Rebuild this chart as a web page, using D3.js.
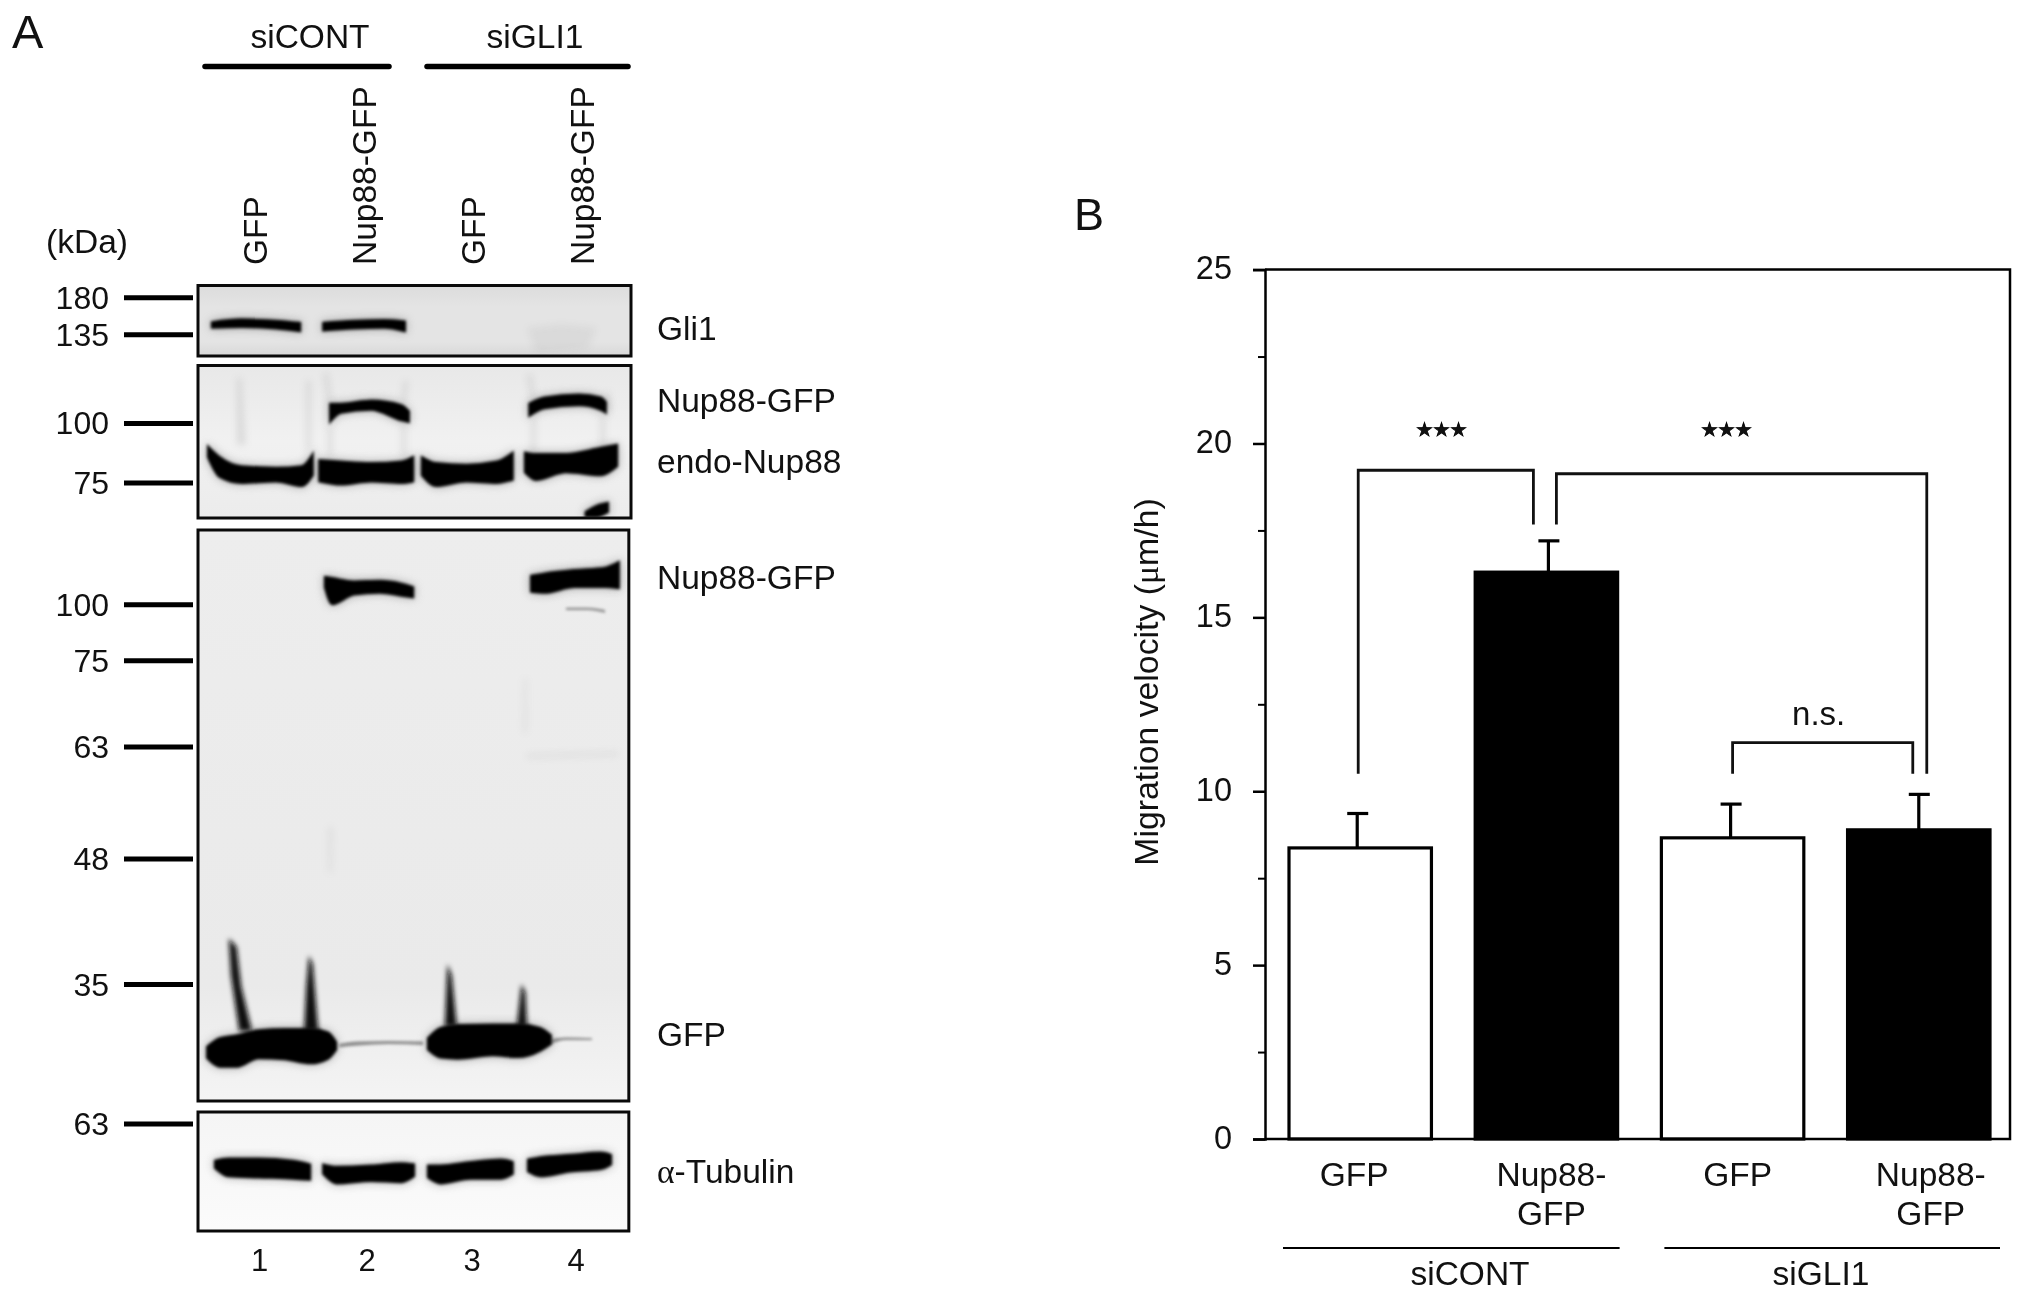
<!DOCTYPE html>
<html><head><meta charset="utf-8">
<script src="https://cdnjs.cloudflare.com/ajax/libs/d3/7.8.5/d3.min.js"></script>
<style>
html,body{margin:0;padding:0;background:#fff}
svg{display:block;filter:blur(0.55px)}
text{font-family:"Liberation Sans",Arial,sans-serif;fill:#111}
</style></head><body>
<script>
// ---------- Panel B data ----------
const barCategories = ["GFP","Nup88-GFP (siCONT)","GFP (siGLI1)","Nup88-GFP (siGLI1)"];
const barValues = [8.37,16.3,8.66,8.89];
const barErrors = [9.36,17.2,9.63,9.91];
const barFills = ["#fff","#000","#fff","#000"];
const barLabelsLine1 = ["GFP","Nup88-","GFP","Nup88-"];
const barLabelsLine2 = ["","GFP","","GFP"];
const majorTicks = [0,5,10,15,20,25];
const minorTicks = [2.5,7.5,12.5,17.5,22.5];
const groupNames = ["siCONT","siGLI1"];
// brackets: from bar, to bar, level, value at left foot, value at right foot
const brackets = [
  {a:0,b:1,level:19.23,footA:10.5,footB:17.67,da:-2,db:-13,label:"★★★"},
  {a:1,b:3,level:19.13,footA:17.67,footB:10.5,da:10,db:8,label:"★★★"},
  {a:2,b:3,level:11.4,footA:10.5,footB:10.5,da:0,db:-6,label:"n.s."}
];
// ---------- Panel A data ----------
const laneNames = ["GFP","Nup88-GFP","GFP","Nup88-GFP"];
const laneNumbers = ["1","2","3","4"];
// ladders: kDa and relative migration (% of blot height)
const ladderGli = {kda:["180","135"],mig:[17.2,69.8]};
const ladderNup = {kda:["100","75"],mig:[38,77]};
const ladderBig = {kda:["100","75","63","48","35"],mig:[13.1,22.9,38,57.6,79.6]};
const ladderTub = {kda:["63"],mig:[10]};
// bands: [% of blot width, top %, bottom % of blot height]
const bandsGli = [
 [[3.2,52,60],[10,48,59],[18,50,61],[23.6,53,65]],
 [[28.9,53,64],[36,50,61],[43,49,60],[47.8,51,65]]
];
const bandsNup = [
 [[30.5,25,37],[33,25,31],[40,23,29],[47,26,36],[48.7,30,37]],
 [[76.5,25,33],[80,21,28],[88,19,26],[93,21,29],[94.2,24,31]],
 [[2.3,53,60],[5,60,73],[10,66,77],[18,67,76],[24,66,79],[26.5,58,72]],
 [[28,62,76],[33,63,78],[40,64,76],[47,63,77],[49.7,60,76]],
 [[51.7,60,72],[55,64,79],[62,65,76],[69,63,77],[72.7,57,75]],
 [[75.5,57,70],[78,58,75],[85,58,70],[93,54,72],[96.8,52,66]],
 [[89.5,96,99],[92,92,99],[94.7,90,96]]
];
const bandsBig = [
 [[29.3,8.2,10],[31,8.4,13],[36,9,11.3],[42,8.9,11],[47,9.4,11.5],[49.7,10,11.8]],
 [[76.9,8,10.8],[80,7.6,11],[87,7,10],[94,6.6,10],[97.2,5.6,10.2]],
 [[2.1,90.5,92.5],[5,89,94],[9,88.5,94],[14,87.6,92.5],[20,87.4,92.7],[26,87.4,93.4],[30,88,92.6],[31.9,89.7,91]],
 [[53.1,89,91],[56,87.2,92.4],[60,86.7,92.6],[68,86.6,92],[74,86.6,92.3],[79,87.2,91.2],[81.5,88.5,90]]
];
const faintBig = [
 [[32.6,90,90.6],[37,89.6,90.3],[44,89.5,90],[52,89.6,90.2]],
 [[81.5,89.2,90],[85,88.9,89.3],[91,89,89.3]],
 [[85,13.6,14],[90,13.6,14],[94,14,14.5]]
];
const streaksBig = [
 [[7.1,71.5],[8.9,73],[10,80],[12.5,87.8],[9.5,87.8],[7.6,78]],
 [[25.6,74.5],[26.5,76],[27.8,87.8],[24.5,87.8],[25,80]],
 [[57.6,76],[58.6,78],[59.8,87],[57,87]],
 [[74.7,79.5],[75.6,81],[76,87],[73.6,87]]
];
const smudgesBig = [
 [[75.2,26],[76,26],[76,35.5],[75,35.5]],
 [[76,39.2],[97,38.8],[97,39.6],[76,40]],
 [[30,52],[31.2,52],[31,60],[30,60]]
];
const smudgesNup = [
 [[9,8],[10,8],[11,52],[9,52]],
 [[29,5],[30,5],[31,26],[30,26]],
 [[47.5,10],[48.5,10],[48,24],[47,24]],
 [[76,6],[77,6],[78,24],[77,24]],
 [[95,15],[94,22],[94,30],[95,30]],
 [[30,40],[31,40],[31,60],[30,60]],
 [[47,38],[48,38],[48,60],[47,60]],
 [[77,35],[78,35],[78,60],[77,60]],
 [[93,33],[94,33],[94,56],[93,56]],
 [[25,10],[26,10],[26,55],[25,55]]
];
const smudgesGli = [[[76,60],[84,55],[92,60],[90,90],[78,95]]];
const bandsTub = [
 [[3.9,41,47],[7,39,54],[14,39,55],[22,41,56],[25.9,44,57]],
 [[28.9,44,52],[32,46,60],[40,45,58],[47,43,59],[49.9,44,54]],
 [[53.1,45,55],[56,45,60],[63,42,56],[70,40,56],[72.7,42,52]],
 [[76.2,40,50],[79,38,54],[86,36,50],[93,34,48],[95.4,36,44]]
];
const blotLabels = [
 {t:"Gli1",b:"gli",v:78},{t:"Nup88-GFP",b:"nup",v:30.6},{t:"endo-Nup88",b:"nup",v:70.6},
 {t:"Nup88-GFP",b:"big",v:10.4},{t:"GFP",b:"big",v:90.4}
];

// ---------- drawing ----------
const svg = d3.select("body").append("svg").attr("width",2032).attr("height",1299);
const defs = svg.append("defs");
const blur = (id,s)=>defs.append("filter").attr("id",id).attr("filterUnits","userSpaceOnUse")
  .attr("x",0).attr("y",0).attr("width",2032).attr("height",1299)
  .append("feGaussianBlur").attr("stdDeviation",s);
blur("b1",1.8); blur("b2",2.4); blur("b3",3.5); blur("b5",5);
const grad=(id,stops)=>{const g=defs.append("linearGradient").attr("id",id).attr("x1",0).attr("x2",0).attr("y1",0).attr("y2",1);
  stops.forEach(s=>g.append("stop").attr("offset",s[0]).attr("stop-color",s[1]));};
grad("gGli",[[0,"#dcdcdc"],[0.3,"#e4e4e4"],[0.8,"#e4e4e4"],[1,"#d8d8d8"]]);
grad("gNup",[[0,"#e8e8e8"],[0.5,"#f1f1f1"],[1,"#ececec"]]);
grad("gBig",[[0,"#ededed"],[0.8,"#eaeaea"],[1,"#f4f4f4"]]);
grad("gTub",[[0,"#f5f5f5"],[1,"#fbfbfb"]]);

const fs = 33.5;
function text(g,x,y,s,opts={}){
  const t=g.append("text").attr("x",x).attr("y",y).attr("font-size",opts.size||fs).text(s);
  if(opts.anchor)t.attr("text-anchor",opts.anchor);
  return t;
}

// --- panel A
const A = svg.append("g");
text(A,12,48,"A",{size:47});
const blotX = d3.scaleLinear().domain([0,100]).range([198,631]);

const area = (y)=>d3.area().x(d=>blotX(d[0])).y0(d=>y(d[1])).y1(d=>y(d[2])).curve(d3.curveMonotoneX);
const poly = (y)=>d3.line().x(d=>blotX(d[0])).y(d=>y(d[1])).curve(d3.curveLinearClosed);

function blot(top,bottom,rightPct,fill,ladder,bands,ops={}){
  const y=d3.scaleLinear().domain([0,100]).range([top,bottom]);
  const w=blotX(rightPct)-blotX(0);
  const g=A.append("g");
  g.append("rect").attr("x",blotX(0)).attr("y",top).attr("width",w).attr("height",bottom-top).attr("fill",`url(#${fill})`);
  const clipId="c"+Math.round(top);
  defs.append("clipPath").attr("id",clipId).append("rect").attr("x",blotX(0)).attr("y",top).attr("width",w).attr("height",bottom-top);
  const inner=g.append("g").attr("clip-path",`url(#${clipId})`);
  (ops.smudges||[]).forEach(s=>inner.append("path").attr("d",poly(y)(s)).attr("fill","#888").attr("opacity",ops.smudgeOp||0.3).attr("filter","url(#b3)"));
  (ops.faint||[]).forEach(s=>inner.append("path").attr("d",area(y)(s)).attr("fill","#8a8a8a").attr("filter","url(#b1)"));
  // soft halo round each band
  inner.selectAll("path.halo").data(bands).join("path").attr("class","halo").attr("d",d=>area(y)(d)).attr("fill","#777").attr("stroke","#777").attr("stroke-width",3).attr("opacity",.55).attr("filter","url(#b5)");
  (ops.streaks||[]).forEach(s=>inner.append("path").attr("d",poly(y)(s)).attr("fill","#111").attr("filter","url(#b2)"));
  inner.selectAll("path.band").data(bands).join("path").attr("class","band").attr("d",d=>area(y)(d)).attr("fill","#030303").attr("stroke","#030303").attr("stroke-width",2).attr("filter","url(#b1)");
  g.append("rect").attr("x",blotX(0)).attr("y",top).attr("width",w).attr("height",bottom-top).attr("fill","none").attr("stroke","#0a0a0a").attr("stroke-width",3);
  // ladder
  ladder.kda.forEach((k,i)=>{
    const yy=y(ladder.mig[i]);
    A.append("line").attr("x1",124).attr("x2",193).attr("y1",yy).attr("y2",yy).attr("stroke","#000").attr("stroke-width",5);
    text(A,109,yy+11,k,{anchor:"end",size:32});
  });
  return y;
}
const yGli=blot(285.5,356,100,"gGli",ladderGli,bandsGli,{smudges:smudgesGli,smudgeOp:.1});
const yNup=blot(365.5,518,100,"gNup",ladderNup,bandsNup,{smudges:smudgesNup,smudgeOp:.22});
const yBig=blot(530,1101,99.5,"gBig",ladderBig,bandsBig,{streaks:streaksBig,faint:faintBig,smudges:smudgesBig,smudgeOp:.12});
const yTub=blot(1112,1231,99.5,"gTub",ladderTub,bandsTub);
const blotY={gli:yGli,nup:yNup,big:yBig};

blotLabels.forEach(l=>text(A,657,blotY[l.b](l.v),l.t));
const tub=text(A,657,1183,"");
tub.append("tspan").attr("font-family","'Liberation Serif',serif").text("α");
tub.append("tspan").text("-Tubulin");

text(A,310,48,"siCONT",{anchor:"middle"});
text(A,535,48,"siGLI1",{anchor:"middle"});
[[205,389],[427,628]].forEach(r=>A.append("line").attr("x1",r[0]).attr("x2",r[1]).attr("y1",66.5).attr("y2",66.5).attr("stroke","#000").attr("stroke-width",5.5).attr("stroke-linecap","round"));
text(A,87,253,"(kDa)",{anchor:"middle"});

const laneBase=[267,376,485,594], numX=[259.5,367,472,576];
laneNames.forEach((n,i)=>{
  A.append("text").attr("transform",`translate(${laneBase[i]},265) rotate(-90)`).attr("font-size",fs).text(n);
  text(A,numX[i],1271,laneNumbers[i],{anchor:"middle",size:31});
});

// --- panel B
const B = svg.append("g");
text(B,1074,230,"B",{size:45});
const x = d3.scaleBand().domain(d3.range(4)).range([1289,1990]).paddingInner(0.235);
const y = d3.scaleLinear().domain([0,25]).range([1139,269.6]);
const left=1265,right=2010;

// error bars (behind bars)
const errShift=[-3,2,-2,0];
const errX=i=>x(i)+x.bandwidth()/2+errShift[i];
B.selectAll("line.err").data(barErrors).join("line").attr("class","err")
  .attr("x1",(d,i)=>errX(i)).attr("x2",(d,i)=>errX(i)).attr("y1",(d,i)=>y(barValues[i])).attr("y2",d=>y(d))
  .attr("stroke","#000").attr("stroke-width",3.2);
B.selectAll("line.cap").data(barErrors).join("line").attr("class","cap")
  .attr("x1",(d,i)=>errX(i)-10).attr("x2",(d,i)=>errX(i)+11).attr("y1",d=>y(d)).attr("y2",d=>y(d))
  .attr("stroke","#000").attr("stroke-width",3.2);
// bars
B.selectAll("rect.bar").data(barValues).join("rect").attr("class","bar")
  .attr("x",(d,i)=>x(i)).attr("y",d=>y(d)).attr("width",x.bandwidth()).attr("height",d=>y(0)-y(d))
  .attr("fill",(d,i)=>barFills[i]).attr("stroke","#000").attr("stroke-width",3.2);

// axis
const axis=d3.axisLeft(y).tickValues(majorTicks).tickSize(12).tickPadding(21).tickFormat(d3.format("d"));
const gAxis=B.append("g").attr("transform",`translate(${left},0)`).call(axis);
gAxis.selectAll("line").attr("stroke","#000").attr("stroke-width",2.5);
gAxis.select(".domain").attr("stroke","#000").attr("stroke-width",2.5);
gAxis.selectAll("text").attr("font-size",32.5).attr("font-family","'Liberation Sans',sans-serif").attr("fill","#111").attr("dy","0.28em");
const gMinor=B.append("g").attr("transform",`translate(${left},0)`).call(d3.axisLeft(y).tickValues(minorTicks).tickSize(7).tickFormat(""));
gMinor.select(".domain").remove();
gMinor.selectAll("line").attr("stroke","#000").attr("stroke-width",2);
// frame
B.append("path").attr("d",`M${left},${y(25)}H${right}V${y(0)}H${left}`).attr("fill","none").attr("stroke","#000").attr("stroke-width",2.5);

// y title
const yt=B.append("text").attr("transform",`translate(1158,682) rotate(-90)`).attr("text-anchor","middle").attr("font-size",33.8);
yt.append("tspan").text("Migration velocity (");
yt.append("tspan").attr("font-family","'Liberation Serif',serif").text("μ");
yt.append("tspan").text("m/h)");

// x labels
const lblOff=[-6,5,5,12];
barLabelsLine1.forEach((s,i)=>{
  const cx=x(i)+x.bandwidth()/2+lblOff[i];
  text(B,cx,1186,s,{anchor:"middle"});
  if(barLabelsLine2[i])text(B,cx,1225,barLabelsLine2[i],{anchor:"middle"});
});
// groups
[[0,1],[2,3]].forEach((p,i)=>{
  const a=x(p[0])-(i?-3:6), b=x(p[1])+x.bandwidth()+(i?10:2);
  B.append("line").attr("x1",a).attr("x2",b).attr("y1",1248).attr("y2",1248).attr("stroke","#000").attr("stroke-width",2);
  text(B,i?1821:1470,1285,groupNames[i],{anchor:"middle"});
});
// brackets
brackets.forEach(b=>{
  const xa=x(b.a)+x.bandwidth()/2+b.da, xb=x(b.b)+x.bandwidth()/2+b.db;
  B.append("path").attr("d",`M${xa},${y(b.footA)}V${y(b.level)}H${xb}V${y(b.footB)}`).attr("fill","none").attr("stroke","#111").attr("stroke-width",2.8);
  if(b.label==="n.s.") text(B,(xa+xb)/2-4,725,b.label,{anchor:"middle",size:33});
  else B.append("text").attr("x",b.a==0?1441:1726).attr("y",436).attr("text-anchor","middle")
     .attr("font-family","'DejaVu Sans',sans-serif").attr("font-size",19).attr("fill","#000").attr("stroke","#000").attr("stroke-width",0.8).text(b.label);
});
</script>
</body></html>
